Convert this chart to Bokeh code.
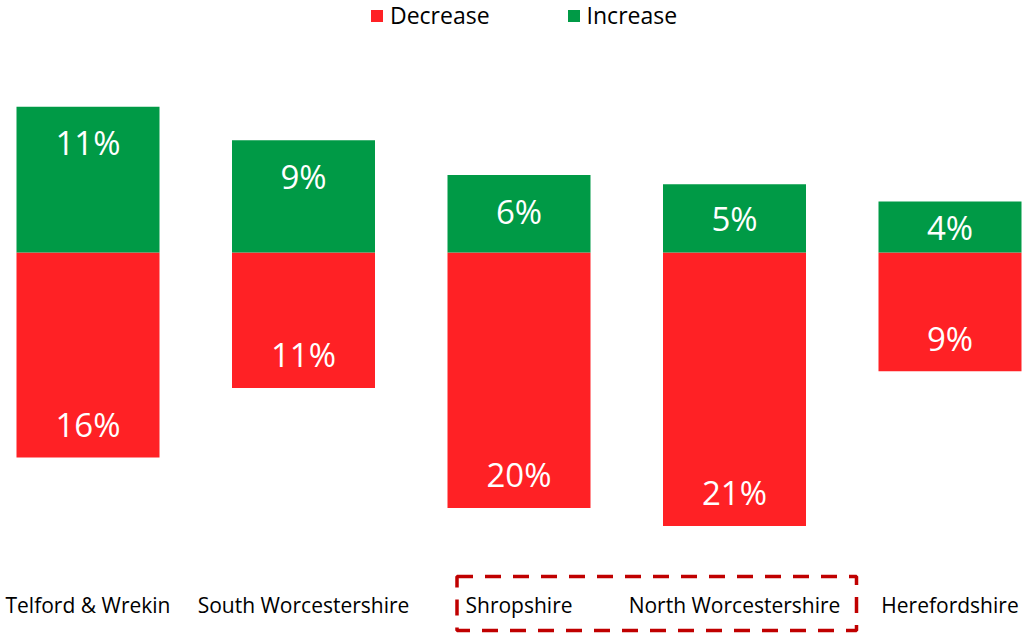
from bokeh.plotting import figure
from bokeh.models import Range1d, Legend, LegendItem, ColumnDataSource
from bokeh.core.properties import value
from bokeh.embed import file_html
from bokeh.resources import INLINE

categories = ["Telford & Wrekin", "South Worcestershire", "Shropshire",
              "North Worcestershire", "Herefordshire"]
increase = [11.3, 8.7, 6.0, 5.3, 3.95]
decrease = [15.9, 10.5, 19.8, 21.2, 9.2]
inc_labels = ["11%", "9%", "6%", "5%", "4%"]
dec_labels = ["16%", "11%", "20%", "21%", "9%"]
highlight = ["Shropshire", "North Worcestershire"]

RED = "#FF2125"
GREEN = "#009A46"
FONT = "Open Sans"

W, H = 1022, 634
PX_PER_UNIT = 12.9
CAT_PX = 215.5
x_start = -87.5 / CAT_PX
x_span = W / CAT_PX
y_end = 252 / PX_PER_UNIT
y_start = y_end - H / PX_PER_UNIT

p = figure(width=W, height=H, output_backend="svg", toolbar_location=None,
           x_range=Range1d(x_start, x_start + x_span),
           y_range=Range1d(y_start, y_end), min_border=0)
p.axis.visible = False
p.grid.visible = False
p.outline_line_color = None
p.background_fill_color = "white"

xs = list(range(len(categories)))
src = ColumnDataSource(dict(
    x=xs,
    inc=increase,
    dec=[-d for d in decrease],
    inc_lab=inc_labels,
    dec_lab=dec_labels,
    inc_y=[v - min(36 / PX_PER_UNIT, v / 2) for v in increase],
    dec_y=[-d + 33 / PX_PER_UNIT for d in decrease],
    name=categories,
    name_y=[y_end - 604 / PX_PER_UNIT] * len(categories),
))

bw = 143 / CAT_PX
r_dec = p.vbar(x="x", top=0, bottom="dec", width=bw, source=src,
               fill_color=RED, line_color=None)
r_inc = p.vbar(x="x", top="inc", bottom=0, width=bw, source=src,
               fill_color=GREEN, line_color=None)

p.text(x="x", y="inc_y", text="inc_lab", source=src, text_color="white",
       text_font=value(FONT), text_font_size="33px", text_align="center",
       text_baseline="middle")
p.text(x="x", y="dec_y", text="dec_lab", source=src, text_color="white",
       text_font=value(FONT), text_font_size="33px", text_align="center",
       text_baseline="middle")
p.text(x="x", y="name_y", text="name", source=src, text_color="black",
       text_font=value(FONT), text_font_size="21px", text_align="center",
       text_baseline="middle")

# highlight box around two categories
i0 = categories.index(highlight[0])
i1 = categories.index(highlight[1])
p.quad(left=i0 - 62 / CAT_PX, right=i1 + 122 / CAT_PX,
       top=y_end - 576 / PX_PER_UNIT, bottom=y_end - 630 / PX_PER_UNIT,
       fill_color=None, line_color="#C00000", line_width=3.5,
       line_dash="16 12")

legend = Legend(items=[LegendItem(label="Decrease", renderers=[r_dec]),
                       LegendItem(label="Increase", renderers=[r_inc])],
                orientation="horizontal", location=(369, H - 31),
                glyph_width=15, glyph_height=15, label_standoff=6,
                spacing=76, padding=0, margin=0,
                label_text_font=FONT, label_text_font_size="23px",
                label_text_color="black",
                border_line_color=None, background_fill_alpha=0)
p.add_layout(legend)

open("out.html", "w").write(file_html(p, INLINE))
